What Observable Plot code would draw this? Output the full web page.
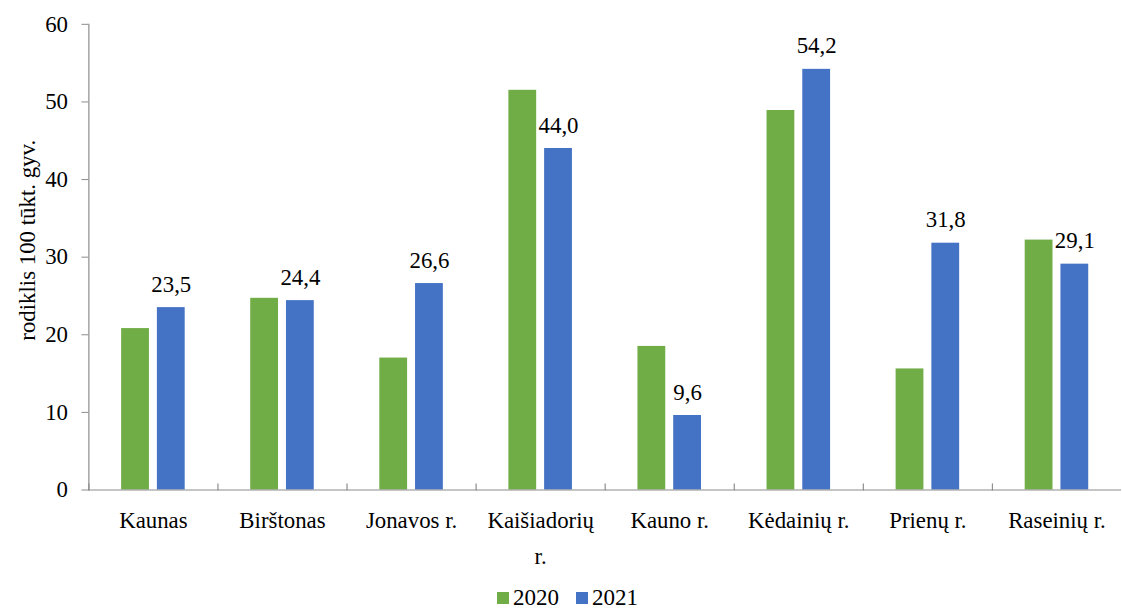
<!DOCTYPE html>
<html><head><meta charset="utf-8">
<script src="https://cdn.jsdelivr.net/npm/d3@7"></script>
<script src="https://cdn.jsdelivr.net/npm/@observablehq/plot@0.6"></script>
<style>
html,body{margin:0;padding:0;background:#fff;overflow:hidden;width:1122px;height:610px;position:relative}
#chart svg{display:block}
#legend{position:absolute;left:497px;top:588px;height:20px;display:flex;align-items:center;font-family:'Liberation Serif','Times New Roman',serif;font-size:23px;line-height:20px;color:#000}
#legend .sw{display:inline-block;width:12px;height:12px;margin-right:4px}
#legend .item{display:flex;align-items:center;margin-right:17px;height:20px}
</style></head><body>
<div id="chart"></div>
<div id="legend"></div>
<script>
const categories = ["Kaunas","Birštonas","Jonavos r.","Kaišiadorių r.","Kauno r.","Kėdainių r.","Prienų r.","Raseinių r."];
const categoryLabels = ["Kaunas","Birštonas","Jonavos r.","Kaišiadorių\nr.","Kauno r.","Kėdainių r.","Prienų r.","Raseinių r."];
const years = ["2020","2021"];
const values2020 = [20.8,24.7,17.0,51.5,18.5,48.9,15.6,32.2];
const values2021 = [23.5,24.4,26.6,44.0,9.6,54.2,31.8,29.1];
const yTicks = [0,10,20,30,40,50,60];
const colors = ["#70AD47","#4472C4"];
const yLabel = "rodiklis 100 tūkt. gyv.";

const data = categories.flatMap((c,i)=>[
  {cat:c, year:years[0], value:values2020[i]},
  {cat:c, year:years[1], value:values2021[i]}
]);
const labelData = data.filter(d=>d.year===years[1]);
const fmt = v => v.toFixed(1).replace(".", ",");
const axisColor = "#8c8c8c";
const font = "'Liberation Serif','Times New Roman',serif";

const W = 1130, H = 578, mt = 24, axisY0 = 493, ml = 88;
const mb = H - axisY0;
const plotH = H - mt - mb;

const chart = Plot.plot({
  width: W, height: H,
  marginTop: mt, marginBottom: mb, marginLeft: ml, marginRight: 0,
  style: {fontFamily: font, fontSize: "23px", color: "#000", background: "#fff", overflow: "visible"},
  fx: {domain: categories, padding: 0, label: null},
  x: {domain: years, paddingInner: 8/37, paddingOuter: 0.868, axis: null},
  y: {domain: [0, 60]},
  color: {domain: years, range: colors},
  marks: [
    Plot.barY(data, {fx: "cat", x: "year", y: "value", fill: "year"}),
    Plot.text(labelData, {fx: "cat", x: "year", y: "value", text: d => fmt(d.value), lineAnchor: "bottom", dy: -16, fill: "#000"}),
    Plot.ruleY([0], {stroke: axisColor, strokeWidth: 1.2}),
    Plot.frame({anchor: "left", stroke: axisColor, strokeWidth: 1.2, insetTop: plotH - 6}),
    Plot.frame({anchor: "left", stroke: axisColor, strokeWidth: 1.2, facet: "super"}),
    Plot.axisY({ticks: yTicks, tickSize: 7, tickPadding: 14, stroke: axisColor, label: null, tickFormat: d => String(d)}),
    Plot.text([yLabel], {text: d => d, frameAnchor: "left", textAnchor: "middle", lineAnchor: "middle", rotate: -90, dx: -62, dy: -17, facet: "super", fill: "#000"}),
    Plot.axisFx({anchor: "bottom", tickSize: 0, tickPadding: 12, label: null, lineHeight: 1.6, tickFormat: d => categoryLabels[categories.indexOf(d)]})
  ]
});
document.getElementById("chart").append(chart);

const legend = document.getElementById("legend");
years.forEach((y, i) => {
  const item = document.createElement("span");
  item.className = "item";
  const sw = document.createElement("span");
  sw.className = "sw";
  sw.style.background = colors[i];
  const t = document.createElement("span");
  t.textContent = y;
  item.append(sw, t);
  legend.append(item);
});
</script>
</body></html>
